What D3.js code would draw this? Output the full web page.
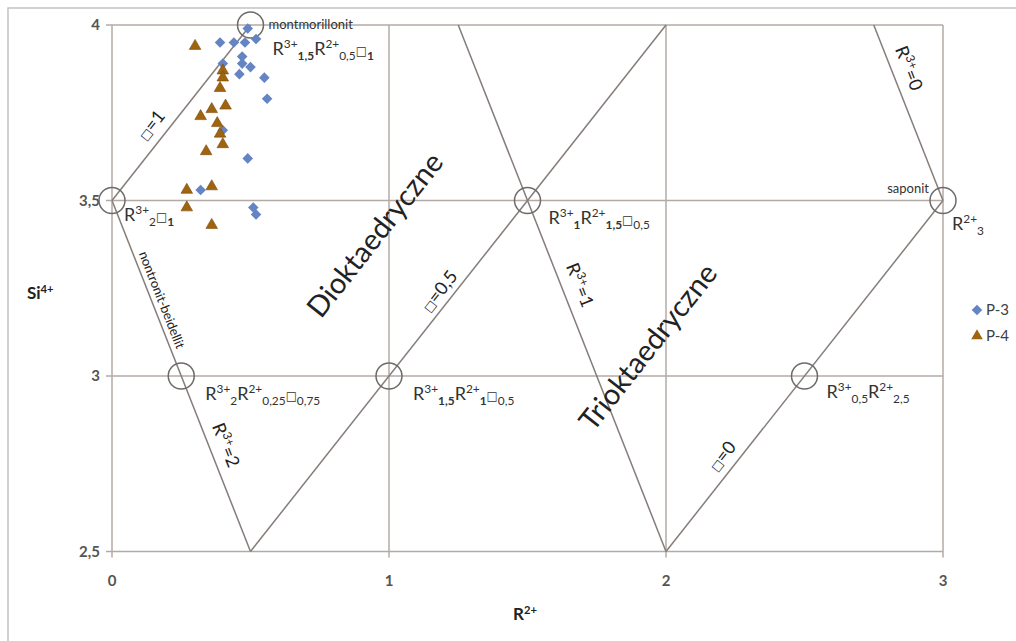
<!DOCTYPE html>
<html>
<head>
<meta charset="utf-8">
<title>Si4+ vs R2+</title>
<script src="https://d3js.org/d3.v7.min.js"></script>
<style>
body { margin:0; background:#fff; }
text { font-family: Lato, "DejaVu Sans", sans-serif; }
</style>
</head>
<body>
<div id="chart"></div>
<script type="text/javascript">

// measured points, series P-3 (diamonds) and P-4 (triangles)
var p3 = [[0.49,3.99],[0.39,3.95],[0.44,3.95],[0.48,3.95],[0.52,3.96],[0.47,3.91],
	[0.47,3.89],[0.50,3.88],[0.40,3.89],[0.46,3.86],[0.55,3.85],[0.56,3.79],
	[0.40,3.70],[0.49,3.62],[0.32,3.53],[0.51,3.48],[0.52,3.46]];
var p4 = [[0.30,3.94],[0.40,3.87],[0.40,3.85],[0.39,3.82],[0.32,3.74],[0.36,3.76],
	[0.41,3.77],[0.38,3.72],[0.39,3.69],[0.40,3.66],[0.34,3.64],[0.36,3.54],
	[0.27,3.53],[0.27,3.48],[0.36,3.43]];

var xTicks = [0,1,2,3];
var yTicks = [2.5,3,3.5,4];
var xTickLabels = ["0","1","2","3"];
var yTickLabels = ["2,5","3","3,5","4"];

// boundary lines of the diagram (data units)
var lines = [
	[[0,3.5],[0.5,4]],     // □=1
	[[0,3.5],[0.5,2.5]],   // R3+=2
	[[0.5,2.5],[2,4]],     // □=0,5
	[[1.25,4],[2,2.5]],    // R3+=1
	[[2,2.5],[3,3.5]],     // □=0
	[[2.75,4],[3,3.5]]     // R3+=0
];
var nodes = [[0.5,4],[0,3.5],[1.5,3.5],[3,3.5],[0.25,3],[1,3],[2.5,3]];

// formula labels: anchor point, pixel offset, parts [text, kind, bold]
var formulas = [
	{x:0.5, y:4, dx:22, dy:30, parts:[["R"],["3+","sup"],["1,5","sub",1],["R"],["2+","sup"],["0,5","sub"],["□","box"],["1","sub",1]]},
	{x:0, y:3.5, dx:12, dy:20, parts:[["R"],["3+","sup"],["2","sub"],["□","box"],["1","sub",1]]},
	{x:1.5, y:3.5, dx:21, dy:23, parts:[["R"],["3+","sup"],["1","sub",1],["R"],["2+","sup"],["1,5","sub",1],["□","box"],["0,5","sub"]]},
	{x:3, y:3.5, dx:9, dy:29, parts:[["R"],["2+","sup"],["3","sub"]]},
	{x:0.25, y:3, dx:24, dy:24, parts:[["R"],["3+","sup"],["2","sub"],["R"],["2+","sup"],["0,25","sub"],["□","box"],["0,75","sub"]]},
	{x:1, y:3, dx:24, dy:24, parts:[["R"],["3+","sup"],["1,5","sub",1],["R"],["2+","sup"],["1","sub",1],["□","box"],["0,5","sub"]]},
	{x:2.5, y:3, dx:22, dy:22, parts:[["R"],["3+","sup"],["0,5","sub"],["R"],["2+","sup"],["2,5","sub"]]}
];
var names = [
	{x:0.5, y:4, dx:18, dy:4, anchor:"start", text:"montmorillonit"},
	{x:3, y:3.5, dx:-14, dy:-8, anchor:"end", text:"saponit"}
];

// labels along the lines: center in data units, line used for the angle
var lineLabels = [
	{x:0.141, y:3.715, line:0, size:18, parts:[["□","box"],["=1"]]},
	{x:0.18, y:3.217, line:1, size:13, parts:[["nontronit-beidellit"]]},
	{x:0.412, y:2.803, line:1, size:18, parts:[["R"],["3+","sup"],["=2"]]},
	{x:1.181, y:3.242, line:2, size:18, parts:[["□","box"],["=0,5"]]},
	{x:1.690, y:3.259, line:3, size:18, parts:[["R"],["3+","sup"],["=1"]]},
	{x:2.202, y:2.772, line:4, size:18, parts:[["□","box"],["=0"]]},
	{x:2.877, y:3.877, line:5, size:18, parts:[["R"],["3+","sup"],["=0"]]},
	{x:0.949, y:3.402, line:2, size:29, parts:[["Dioktaedryczne"]]},
	{x:1.935, y:3.083, line:2, size:29, parts:[["Trioktaedryczne"]]}
];

var width = 1016, height = 641;
var svg = d3.select("#chart").append("svg").attr("width", width).attr("height", height);

var x = d3.scaleLinear().domain([0,3]).range([112,943]);
var y = d3.scaleLinear().domain([2.5,4]).range([551.5,25]);

// outer chart border
svg.append("rect").attr("x", 8).attr("y", 8).attr("width", 1100).attr("height", 1000)
	.attr("fill", "#fff").attr("stroke", "#c4c4c4").attr("stroke-width", 1.5);

// grid
svg.selectAll(".hgrid").data(yTicks).enter().append("line").attr("class", "hgrid")
	.attr("x1", x(0) - 6).attr("x2", x(3)).attr("y1", d => y(d)).attr("y2", d => y(d))
	.attr("stroke", "#b3aaa6").attr("stroke-width", 1.5);
svg.selectAll(".vgrid").data(xTicks).enter().append("line").attr("class", "vgrid")
	.attr("x1", d => x(d)).attr("x2", d => x(d)).attr("y1", y(4)).attr("y2", y(2.5) + 6)
	.attr("stroke", "#b3aaa6").attr("stroke-width", 1.5);

// tick labels
svg.selectAll(".ylab").data(yTicks).enter().append("text").attr("class", "ylab")
	.attr("x", x(0) - 12).attr("y", d => y(d)).attr("dy", "0.35em")
	.attr("text-anchor", "end").style("font-size", "15px").style("font-weight", "bold")
	.attr("fill", "#555").text((d, i) => yTickLabels[i]);
svg.selectAll(".xlab").data(xTicks).enter().append("text").attr("class", "xlab")
	.attr("x", d => x(d)).attr("y", y(2.5) + 29).attr("dy", "0.35em")
	.attr("text-anchor", "middle").style("font-size", "15px").style("font-weight", "bold")
	.attr("fill", "#555").text((d, i) => xTickLabels[i]);

// axis titles
var yt = svg.append("text").attr("x", 27).attr("y", 299).style("font-size", "17px")
	.style("font-weight", "bold").attr("fill", "#222");
rich(yt, [["Si"],["4+","sup"]], 17);
var xt = svg.append("text").attr("x", 513).attr("y", 620).style("font-size", "17px")
	.style("font-weight", "bold").attr("fill", "#222");
rich(xt, [["R"],["2+","sup"]], 17);

// diagram lines and nodes
svg.selectAll(".bound").data(lines).enter().append("line").attr("class", "bound")
	.attr("x1", d => x(d[0][0])).attr("y1", d => y(d[0][1]))
	.attr("x2", d => x(d[1][0])).attr("y2", d => y(d[1][1]))
	.attr("stroke", "#857d79").attr("stroke-width", 1.5);
svg.selectAll(".node").data(nodes).enter().append("circle").attr("class", "node")
	.attr("cx", d => x(d[0])).attr("cy", d => y(d[1])).attr("r", 13)
	.attr("fill", "none").attr("stroke", "#6e6a68").attr("stroke-width", 1.5);

function rich(sel, parts, base) {
	var shift = 0;
	parts.forEach(function(p) {
		var kind = p[1];
		var target = kind == "sup" ? -0.38 * base : kind == "sub" ? 0.28 * base : 0;
		var size = kind == "sup" || kind == "sub" ? base * 0.66 : kind == "box" ? base * 0.66 : base;
		var t = sel.append("tspan").text(p[0]).attr("dy", target - shift)
			.style("font-size", size + "px");
		if (kind == "box") t.style("font-family", "DejaVu Sans");
		if (p[2]) t.style("font-weight", "bold");
		shift = target;
	});
}

formulas.forEach(function(f) {
	var t = svg.append("text").attr("x", x(f.x) + f.dx).attr("y", y(f.y) + f.dy)
		.style("font-size", "18px").attr("fill", "#333");
	rich(t, f.parts, 18);
});
names.forEach(function(n) {
	svg.append("text").attr("x", x(n.x) + n.dx).attr("y", y(n.y) + n.dy)
		.attr("text-anchor", n.anchor).style("font-size", "13px").attr("fill", "#333")
		.text(n.text);
});

lineLabels.forEach(function(l) {
	var ln = lines[l.line];
	var ang = Math.atan2(y(ln[1][1]) - y(ln[0][1]), x(ln[1][0]) - x(ln[0][0])) * 180 / Math.PI;
	var t = svg.append("text")
		.attr("transform", "translate(" + x(l.x) + "," + y(l.y) + ") rotate(" + ang + ")")
		.attr("text-anchor", "middle").attr("dy", "0.35em")
		.style("font-size", l.size + "px").attr("fill", "#222");
	if (l.parts.length == 1) t.text(l.parts[0][0]);
	else {
		t.attr("dy", null).attr("y", l.size * 0.35);
		rich(t, l.parts, l.size);
	}
});

// data points
var diamond = d3.symbol().type(d3.symbolSquare).size(56);
var tri = d3.symbol().type(d3.symbolTriangle).size(58);
svg.selectAll(".p3").data(p3).enter().append("path").attr("class", "p3")
	.attr("d", diamond)
	.attr("transform", d => "translate(" + x(d[0]) + "," + y(d[1]) + ") rotate(45)")
	.attr("fill", "#6584c4");
svg.selectAll(".p4").data(p4).enter().append("path").attr("class", "p4")
	.attr("d", tri)
	.attr("transform", d => "translate(" + x(d[0]) + "," + y(d[1]) + ")")
	.attr("fill", "#9f6410").attr("stroke", "#7a4a08").attr("stroke-width", 0.6);

// legend
var legend = [{name:"P-3", sym:diamond, rot:45, color:"#6584c4"},
	{name:"P-4", sym:tri, rot:0, color:"#9f6410"}];
legend.forEach(function(l, i) {
	var ly = 310 + i * 26;
	svg.append("path").attr("d", l.sym)
		.attr("transform", "translate(977," + ly + ") rotate(" + l.rot + ")")
		.attr("fill", l.color);
	svg.append("text").attr("x", 986).attr("y", ly).attr("dy", "0.35em")
		.style("font-size", "15px").attr("fill", "#404040").text(l.name);
});

</script>
</body>
</html>
